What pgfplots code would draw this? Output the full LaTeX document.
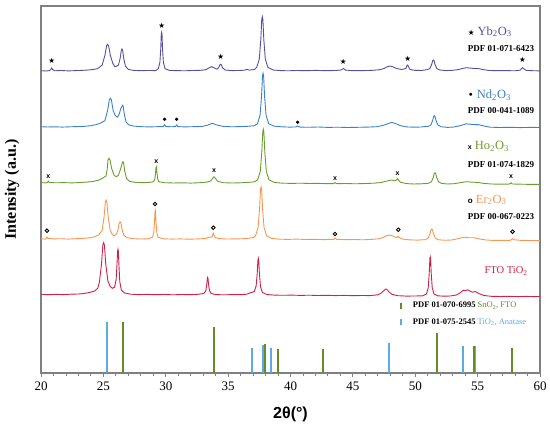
\documentclass[border=0pt]{standalone}
\usepackage{fontspec}
\setmainfont{Liberation Serif}
\setsansfont{Liberation Sans}
\newfontfamily\symfont{DejaVu Sans}
\usepackage{pgfplots}
\pgfplotsset{compat=1.18}
\definecolor{cYb}{RGB}{88,78,160}
\definecolor{cNd}{RGB}{58,130,200}
\definecolor{cHo}{RGB}{104,158,44}
\definecolor{cEr}{RGB}{247,150,82}
\definecolor{cFTO}{RGB}{210,32,72}
\definecolor{cSn}{RGB}{100,140,40}
\definecolor{cAn}{RGB}{90,172,226}
\definecolor{cAx}{RGB}{128,128,128}
\newcommand{\sub}[1]{\textsubscript{#1}}
\begin{document}
\begin{tikzpicture}
\begin{axis}[
  name=main, scale only axis, width=499pt, height=367pt,
  xmin=20, xmax=60, ymin=0, ymax=367,
  axis line style={draw=cAx, line width=1.1pt},
  ytick=\empty,
  xtick={20,25,...,60}, minor x tick num=4,
  xtick pos=left, tick align=outside,
  major tick length=4pt, minor tick length=3pt,
  every tick/.style={cAx, line width=0.9pt},
  /pgf/number format/assume math mode=true,
  xticklabel style={font=\fontsize{13}{13}\selectfont, yshift=-1pt},
  xlabel={\sffamily\bfseries 2θ(°)},
  xlabel style={font=\fontsize{16}{16}\selectfont, at={(axis description cs:0.5,0)}, anchor=center, yshift=-41pt},
  ylabel={\bfseries Intensity (a.u.)},
  ylabel style={font=\fontsize{16}{16}\selectfont, at={(axis description cs:-0.058,0.5)}, anchor=center},
]
% reference sticks
\addplot[ycomb, cAn, line width=1.8pt, mark=none] coordinates {
(25.27,51.3) (36.92,24.7) (37.80,28) (38.46,25.3) (47.90,30.3) (53.82,27.3) (54.83,27.3)};
\addplot[ycomb, cSn, line width=1.8pt, mark=none] coordinates {
(26.57,51.3) (33.87,46) (37.93,29.3) (38.97,24) (42.63,24) (51.74,39.7) (54.71,27.3) (57.78,25.3)};
% FTO TiO2
\addplot[cFTO, line width=0.9pt, mark=none] coordinates {
(20,78.6) (20.6,78.3) (21.2,78.6) (21.8,78.4) (22.4,78.8) (23.0,79.0) (23.5,79.6) (23.9,80.6) (24.3,82.0)
(24.55,84.8) (24.68,90.7) (24.85,109.0) (24.957,128.0) (25.02,130.3) (25.083,128.0) (25.19,109.0) (25.36,92.0) (25.55,86.5) (25.72,84.7) (25.9,85.8)
(26.026,93.6) (26.098,110.5) (26.143,122.0) (26.17,123.7) (26.197,122.0) (26.242,109.5) (26.314,91.5) (26.44,82.8) (26.7,80.0) (27.2,78.8) (27.8,78.4) (28.5,78.6) (29.2,78.3) (29.9,78.5) (30.6,78.2) (31.3,78.5) (32.0,78.3) (32.6,78.7) (33.0,79.5)
(33.09,80.0) (33.216,82.5) (33.288,88.5) (33.333,94.6) (33.36,95.7) (33.387,94.6) (33.432,88.5) (33.504,82.5) (33.63,79.6) (34.0,78.4) (34.7,78.2) (35.4,78.4) (36.0,78.3) (36.5,78.8) (36.8,80.3) (36.95,80.8) (37.1,81.5)
(37.244,87.0) (37.332,99.5) (37.387,112.5) (37.42,114.7) (37.453,112.5) (37.508,99.5) (37.596,86.2) (37.75,80.5) (38.1,78.5) (38.7,77.9) (39.4,77.7) (40.1,77.9) (40.8,77.6) (41.5,77.8) (42.2,77.5) (42.9,77.7) (43.6,77.4) (44.3,77.6) (45.0,77.3) (45.7,77.5) (46.4,77.4) (47.0,78.2)
(47.25,79.8) (47.45,82.0) (47.58,83.6) (47.66,84.0) (47.75,83.4) (47.9,81.0) (48.15,78.6) (48.6,77.3) (49.3,76.9) (50.0,77.0) (50.6,77.2)
(50.9,79.0) (51.04,85.3) (51.12,99.6) (51.17,114.3) (51.2,116.3) (51.23,114.3) (51.28,99.6) (51.36,85.3) (51.5,79.0) (51.8,77.2) (52.3,76.8) (52.8,77.0) (53.3,78.0) (53.6,80.2) (53.85,82.8) (54.0,82.3) (54.2,83.2) (54.45,81.5) (54.6,80.8) (54.8,81.5) (55.1,79.5) (55.5,77.5) (56.1,76.7) (56.8,76.5) (57.5,76.7) (58.2,76.4) (58.9,76.6) (59.5,76.4) (60,76.5)};
% Er2O3
\addplot[cEr, line width=0.9pt, mark=none] coordinates {
(20,134.2) (20.35,133.9) (20.42,134.8) (20.48,136.0) (20.55,134.6) (21.0,134.1) (21.6,134.3) (22.2,133.9) (22.8,134.3) (23.4,134.6) (23.9,135.2) (24.3,136.3)
(24.62,138.0) (24.9,142.6) (25.06,156.6) (25.16,171.1) (25.22,173) (25.28,171.1) (25.38,156.6) (25.54,143.0) (25.72,138.3) (25.88,137.3) (26.06,139.2) (26.17,143.0) (26.26,149.5) (26.34,151.3) (26.42,149.5) (26.51,143.0) (26.65,137.6) (26.9,135.3) (27.4,134.3) (28.0,134.0) (28.6,134.2)
(28.94,135.8) (29.04,140.4) (29.10,150.8) (29.14,161.5) (29.16,163.0) (29.18,161.5) (29.22,150.8) (29.28,140.4) (29.38,135.8) (29.8,134.2) (30.5,133.9) (31.2,134.1) (31.9,133.8) (32.6,134.1) (33.2,134.5)
(33.45,135.6) (33.6,136.0) (33.7,135.8) (33.76,138.0) (33.81,139.7) (33.87,138.0) (33.96,135.5) (34.3,134.4) (34.9,134.0) (35.6,134.1) (36.2,134.3) (36.7,134.8) (37.05,135.6)
(37.19,137.1) (37.4,145.4) (37.52,164.2) (37.595,183.4) (37.64,186.0) (37.685,183.4) (37.76,164.2) (37.88,145.4) (38.09,137.1) (38.5,134.6) (39.1,133.8) (39.8,133.6) (40.5,133.9) (41.2,133.5) (41.9,133.7) (42.6,133.4) (43.3,133.5) (43.45,133.6) (43.57,135.0) (43.7,133.6) (44.4,133.3) (45.1,133.5) (45.8,133.2) (46.5,133.6) (47.1,134.2)
(47.5,136.0) (47.7,137.3) (47.92,138.0) (48.15,137.3) (48.4,135.8) (48.55,135.6) (48.64,136.8) (48.72,135.5) (49.0,133.9) (49.6,133.1) (50.2,132.9) (50.7,133.3)
(50.8,133.2) (51.04,135.0) (51.18,139.2) (51.27,143.4) (51.32,144.0) (51.37,143.4) (51.46,139.2) (51.6,135.0) (51.84,133.3) (52.4,132.7) (52.9,133.0) (53.4,134.2) (53.9,135.8) (54.3,135.2) (54.7,135.3) (55.1,134.2) (55.6,133.1) (56.2,132.6) (56.9,132.7) (57.6,132.6) (57.72,133.6) (57.8,134.5) (57.9,133.3) (58.5,132.6) (59.2,132.5) (60,132.4)};
% Ho2O3
\addplot[cHo, line width=0.9pt, mark=none] coordinates {
(20,190.4) (20.4,190.1) (20.52,190.6) (20.59,191.8) (20.66,190.5) (21.2,190.2) (21.8,190.4) (22.5,190.1) (23.1,190.5) (23.7,190.9) (24.2,191.6) (24.6,192.8)
(24.9,194.5) (25.21,197.0) (25.31,204.2) (25.37,213.1) (25.45,214.7) (25.53,213.1) (25.67,204.2) (25.87,197.5) (26.05,196.3) (26.22,198.0) (26.36,203.2) (26.52,210.2) (26.57,211.3) (26.62,210.2) (26.71,202.2) (26.85,194.6) (27.1,191.6) (27.6,190.6) (28.2,190.3) (28.7,190.6)
(29.02,191.3) (29.12,193.6) (29.18,199.5) (29.22,205.5) (29.24,206.3) (29.26,205.5) (29.30,199.5) (29.36,193.6) (29.46,191.2) (29.9,190.3) (30.6,190.0) (31.3,190.2) (32.0,189.9) (32.7,190.3) (33.3,190.9)
(33.6,192.0) (33.75,194.5) (33.87,196.3) (33.99,194.5) (34.15,191.8) (34.6,190.3) (35.3,190.0) (36.0,190.2) (36.6,190.6) (37.1,191.2)
(37.37,193.2) (37.58,201.8) (37.70,221.2) (37.775,241.0) (37.82,243.7) (37.865,241.0) (37.94,221.2) (38.06,201.8) (38.27,193.2) (38.7,190.5) (39.4,189.8) (40.1,189.6) (40.8,189.8) (41.5,189.5) (42.2,189.7) (42.9,189.3) (43.45,189.4) (43.57,190.4) (43.7,189.3) (44.4,189.5) (45.2,189.2) (46.0,189.5) (46.7,189.8) (47.3,190.6)
(47.75,192.0) (48.11,193.0) (48.35,192.2) (48.48,192.8) (48.55,194.0) (48.59,194.3) (48.65,193.0) (48.8,190.8) (49.3,189.4) (49.9,189.0) (50.5,189.2) (51.0,189.6)
(51.06,189.8) (51.3,191.3) (51.44,195.5) (51.53,199.7) (51.58,200.3) (51.63,199.7) (51.72,195.5) (51.86,191.3) (52.1,189.6) (52.6,189.0) (53.1,189.3) (53.6,190.3) (54.1,191.3) (54.6,190.8) (55.0,190.6) (55.5,189.6) (56.1,189.0) (56.8,188.8) (57.5,188.9) (57.6,189.4) (57.68,190.2) (57.78,189.0) (58.5,188.8) (59.2,188.6) (60,188.7)};
% Nd2O3
\addplot[cNd, line width=0.9pt, mark=none] coordinates {
(20,246.3) (20.5,246.0) (21.1,246.2) (21.7,245.9) (22.3,246.2) (22.9,246.4) (23.5,246.7) (24.0,247.3) (24.4,248.3)
(24.74,249.7) (25.12,252.3) (25.34,262.6) (25.48,273.3) (25.56,274.7) (25.64,273.3) (25.78,262.6) (25.95,257.5) (26.12,255.8) (26.26,258.5) (26.40,264.5) (26.49,266.6) (26.54,267.7) (26.59,266.6) (26.68,258.6) (26.82,251.0) (27.05,248.0) (27.5,246.8) (28.1,246.3) (28.7,246.1) (29.3,246.3)
(29.8,246.4) (29.91,248.2) (30.02,246.5) (30.5,246.2) (30.78,246.5) (30.87,248.0) (30.97,246.4) (31.5,246.1) (32.2,246.3) (32.9,246.5) (33.35,247.8) (33.73,249.7) (34.1,248.0) (34.6,246.6) (35.3,246.2) (36.0,246.4) (36.6,246.7) (37.1,247.3)
(37.35,249.2) (37.56,257.8) (37.68,277.1) (37.755,297.0) (37.8,299.7) (37.845,297.0) (37.92,277.1) (38.04,257.8) (38.25,249.2) (38.7,246.8) (39.3,246.2) (39.9,245.9) (40.4,246.0) (40.57,247.0) (40.75,245.9) (41.4,245.7) (42.2,246.0) (43.0,245.6) (43.8,245.8) (44.6,245.5) (45.4,245.7) (46.2,245.9) (46.9,246.3) (47.4,247.5)
(47.8,249.2) (48.11,250.7) (48.4,249.5) (48.8,247.4) (49.3,246.1) (49.9,245.8) (50.5,246.0) (50.9,246.6)
(51.01,246.4) (51.25,248.1) (51.39,252.3) (51.48,256.7) (51.53,257.3) (51.58,256.7) (51.67,252.3) (51.81,248.1) (52.05,246.3) (52.6,245.6) (53.1,246.0) (53.6,247.3) (54.1,249.2) (54.6,248.5) (55.1,248.3) (55.5,247.0) (56.0,245.8) (56.8,245.5) (57.6,245.7) (58.4,245.4) (59.2,245.6) (60,245.5)};
% Yb2O3
\addplot[cYb, line width=0.9pt, mark=none] coordinates {
(20,302.3) (20.4,302.0) (20.7,302.4) (20.78,303.5) (20.86,305) (20.94,303.3) (21.1,302.2) (21.6,302.5) (22.2,302.1) (22.8,302.4) (23.3,302.6) (23.8,303.0) (24.2,303.6)
(24.52,304.2) (24.9,307.9) (25.12,317.5) (25.26,327.4) (25.34,328.7) (25.42,327.2) (25.56,317.5) (25.76,309.5) (25.92,306.3) (26.08,307.0) (26.21,308.0) (26.35,315.0) (26.44,322.9) (26.49,324.0) (26.54,322.9) (26.63,314.8) (26.77,306.8) (27.0,303.6) (27.4,302.6) (28.0,302.3) (28.6,302.5) (29.2,302.4)
(29.4,304.3) (29.53,310.5) (29.6,324.4) (29.64,338.8) (29.67,340.7) (29.70,338.8) (29.74,324.4) (29.81,310.5) (29.94,304.3) (30.3,302.5) (30.9,302.4) (31.5,302.2) (32.1,302.5) (32.7,302.6) (33.2,303.2)
(33.45,305.0) (33.68,306.3) (33.9,305.0) (34.1,303.8) (34.25,305.5) (34.34,308.3) (34.4,308.7) (34.46,308.0) (34.55,305.3) (34.75,303.0) (35.3,302.4) (35.9,302.5) (36.3,302.8) (36.5,303.6) (36.7,302.9) (37.1,303.5)
(37.29,305.6) (37.5,314.0) (37.62,333.5) (37.695,353.6) (37.74,356.3) (37.785,353.6) (37.86,333.5) (37.98,314.0) (38.19,305.6) (38.6,303.0) (39.2,302.4) (39.8,302.2) (40.5,302.5) (41.2,302.3) (42.0,302.6) (42.8,302.3) (43.6,302.5)
(44.05,303.0) (44.23,304.5) (44.4,302.9) (45.0,302.3) (45.8,302.4) (46.5,302.6) (47.1,303.2)
(47.5,304.5) (47.75,306.2) (47.98,307) (48.2,306.2) (48.5,304.5) (48.9,303.5)
(49.25,304.5) (49.33,307.3) (49.39,308) (49.45,306.8) (49.55,303.8) (49.9,302.7) (50.5,302.5)
(50.93,303.3) (51.17,304.4) (51.31,308.4) (51.4,312.4) (51.45,313) (51.5,312.4) (51.59,308.4) (51.73,304.4) (51.97,303) (52.5,302.4) (53.0,302.7) (53.5,303.5)
(53.8,304.6) (54.12,305.3) (54.5,304.8) (54.8,304.4) (55.05,304.5) (55.4,303.5) (55.9,302.5) (56.6,302.3) (57.3,302.4) (58.0,302.2) (58.4,302.8)
(58.52,304.5) (58.6,305.3) (58.7,304.2) (58.9,302.6) (59.4,302.3) (60,302.1)};
% phase markers
\addplot[draw=none, mark=none, nodes near coords={\symfont ★},
  every node near coord/.append style={anchor=center, inner sep=0pt, font=\fontsize{7.5}{7.5}\selectfont}]
  coordinates {(20.86,312) (29.67,347.3) (34.4,315.7) (44.23,310.7) (49.39,314) (58.6,312.7)};
\addplot[only marks, mark=*, mark size=1.5pt, black] coordinates {(29.91,253.7) (30.87,253.7) (40.57,250.7)};
\addplot[draw=none, mark=none, nodes near coords={\sffamily\bfseries x},
  every node near coord/.append style={anchor=center, inner sep=0pt, font=\fontsize{7}{7}\selectfont}]
  coordinates {(20.59,196.3) (29.24,211.7) (33.87,202.7) (43.57,194.7) (48.59,199.7) (57.68,196.7)};
\addplot[only marks, mark=o, mark size=1.8pt, line width=0.9pt, black] coordinates {(20.48,142.3) (29.14,169) (33.81,145.3) (43.57,139) (48.64,143.3) (57.8,141.3)};
% labels
\node[anchor=west, inner sep=0pt, font=\fontsize{12.5}{12.5}\selectfont] at (axis cs:54.2,341.3) {{\symfont\fontsize{7.5}{7.5}\selectfont ★} \textcolor{cYb}{Yb\sub{2}O\sub{3}}};
\node[anchor=west, inner sep=0pt, font=\fontsize{9}{9}\selectfont\bfseries] at (axis cs:54.2,324.7) {PDF 01-071-6423};
\node[anchor=west, inner sep=0pt, font=\fontsize{12.5}{12.5}\selectfont] at (axis cs:54.2,278) {{\symfont\fontsize{10}{10}\selectfont •} \textcolor{cNd}{Nd\sub{2}O\sub{3}}};
\node[anchor=west, inner sep=0pt, font=\fontsize{9}{9}\selectfont\bfseries] at (axis cs:54.2,262) {PDF 00-041-1089};
\node[anchor=west, inner sep=0pt, font=\fontsize{12.5}{12.5}\selectfont] at (axis cs:54.2,226.3) {{\sffamily\bfseries\fontsize{7}{7}\selectfont x} \textcolor{cHo}{Ho\sub{2}O\sub{3}}};
\node[anchor=west, inner sep=0pt, font=\fontsize{9}{9}\selectfont\bfseries] at (axis cs:54.2,208.7) {PDF 01-074-1829};
\node[anchor=west, inner sep=0pt, font=\fontsize{12.5}{12.5}\selectfont] at (axis cs:54.2,173) {{\sffamily\bfseries\fontsize{8}{8}\selectfont o} \textcolor{cEr}{Er\sub{2}O\sub{3}}};
\node[anchor=west, inner sep=0pt, font=\fontsize{9}{9}\selectfont\bfseries] at (axis cs:54.2,156.3) {PDF 00-067-0223};
\node[anchor=west, inner sep=0pt, font=\fontsize{10.5}{10.5}\selectfont, text=cFTO] at (axis cs:55.54,102) {FTO TiO\sub{2}};
% reference legend
\draw[cSn, line width=1.2pt] (axis cs:48.86,64.3) -- (axis cs:48.86,70.3);
\draw[cAn, line width=1.2pt] (axis cs:48.86,48) -- (axis cs:48.86,54);
\node[anchor=west, inner sep=0pt, font=\fontsize{8.5}{8.5}\selectfont] at (axis cs:49.8,67.3) {\textbf{PDF 01-070-6995} \textcolor{cSn}{SnO\sub{2}, FTO}};
\node[anchor=west, inner sep=0pt, font=\fontsize{8.5}{8.5}\selectfont] at (axis cs:49.8,51) {\textbf{PDF 01-075-2545} \textcolor{cAn}{TiO\sub{2}, Anatase}};
\end{axis}
\pgfresetboundingbox
\path[use as bounding box] ([shift={(-41pt,-57pt)}]main.south west) rectangle ([shift={(10pt,6pt)}]main.north east);
\end{tikzpicture}
\end{document}
